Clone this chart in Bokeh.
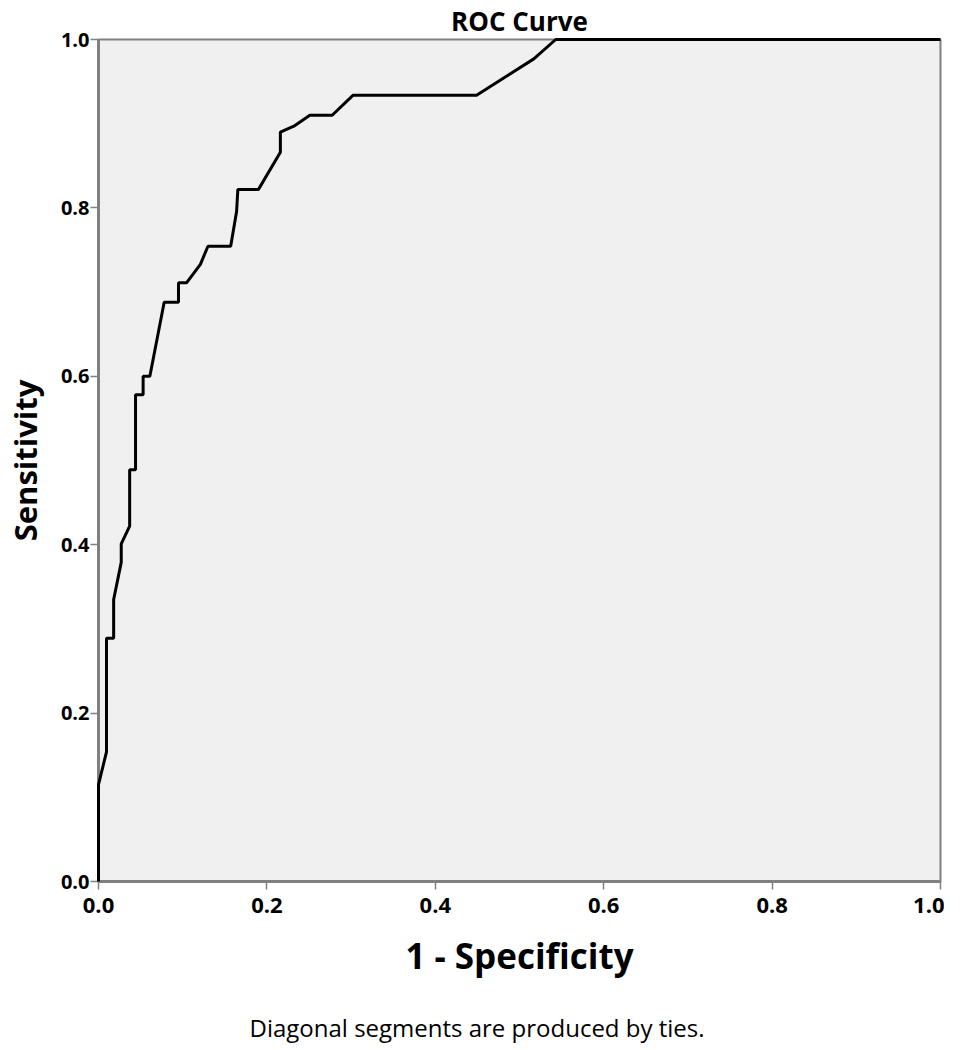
from bokeh.plotting import figure
from bokeh.models import Range1d, Title, FixedTicker
from bokeh.embed import file_html
from bokeh.resources import INLINE

fpr = [0.0, 0.0, 0.0095, 0.0095, 0.018, 0.018, 0.027, 0.027, 0.037, 0.037, 0.044, 0.044,
       0.053, 0.053, 0.061, 0.078, 0.095, 0.095, 0.1045, 0.121, 0.130, 0.157, 0.164, 0.1655,
       0.190, 0.216, 0.216, 0.232, 0.251, 0.2775, 0.3025, 0.449, 0.517, 0.543, 1.0]
tpr = [0.0, 0.115, 0.154, 0.289, 0.289, 0.335, 0.379, 0.401, 0.422, 0.489, 0.489, 0.578,
       0.578, 0.600, 0.600, 0.688, 0.688, 0.711, 0.711, 0.733, 0.7545, 0.7545, 0.7957, 0.822,
       0.822, 0.866, 0.890, 0.897, 0.910, 0.910, 0.9339, 0.9339, 0.977, 1.0, 1.0]
ticks = [0.0, 0.2, 0.4, 0.6, 0.8, 1.0]
tick_labels = {0.0: "0.0", 0.2: "0.2", 0.4: "0.4", 0.6: "0.6", 0.8: "0.8", 1.0: "1.0"}

FONT = "Open Sans"

p = figure(frame_width=842, frame_height=842, output_backend="svg", toolbar_location=None,
           x_range=Range1d(0, 1), y_range=Range1d(0, 1),
           min_border_left=90, min_border_right=4, min_border_top=32, min_border_bottom=150)

p.background_fill_color = "#f0f0f0"
p.border_fill_color = "white"
p.outline_line_color = "#808080"
p.outline_line_width = 2
p.xgrid.visible = False
p.ygrid.visible = False

p.line(fpr, tpr, line_color="black", line_width=3, level="overlay")

p.title.text = "ROC Curve"
p.title.align = "center"
p.title.text_font = FONT
p.title.text_font_size = "26px"
p.title.text_font_style = "bold"
p.title.text_color = "black"
p.title.standoff = 1
p.title.offset = 0

for ax in (p.xaxis[0], p.yaxis[0]):
    ax.ticker = FixedTicker(ticks=ticks)
    ax.major_label_overrides = tick_labels
    ax.major_label_text_font = FONT
    ax.major_label_text_font_style = "bold"
    ax.major_label_text_color = "black"
    ax.axis_line_color = "#808080"
    ax.axis_line_width = 3
    ax.major_tick_line_color = "#808080"
    ax.major_tick_line_width = 1.5
    ax.major_tick_in = 0
    ax.major_tick_out = 8
    ax.minor_tick_line_color = None
    ax.axis_label_text_font = FONT
    ax.axis_label_text_font_style = "bold"
    ax.axis_label_text_color = "black"

p.xaxis[0].axis_label = "1 - Specificity"
p.xaxis[0].axis_label_text_font_size = "35px"
p.xaxis[0].axis_label_standoff = 16
p.xaxis[0].major_label_text_font_size = "22px"
p.xaxis[0].major_label_standoff = 8
p.yaxis[0].axis_label = "Sensitivity"
p.yaxis[0].axis_label_text_font_size = "31px"
p.yaxis[0].axis_label_standoff = 12
p.yaxis[0].major_label_text_font_size = "20px"
p.yaxis[0].major_label_standoff = 1

foot = Title(text="Diagonal segments are produced by ties.", align="left",
             text_font=FONT, text_font_size="24px", text_font_style="normal",
             text_color="black", offset=151, standoff=54)
p.add_layout(foot, "below")

open("out.html", "w").write(file_html(p, INLINE))
